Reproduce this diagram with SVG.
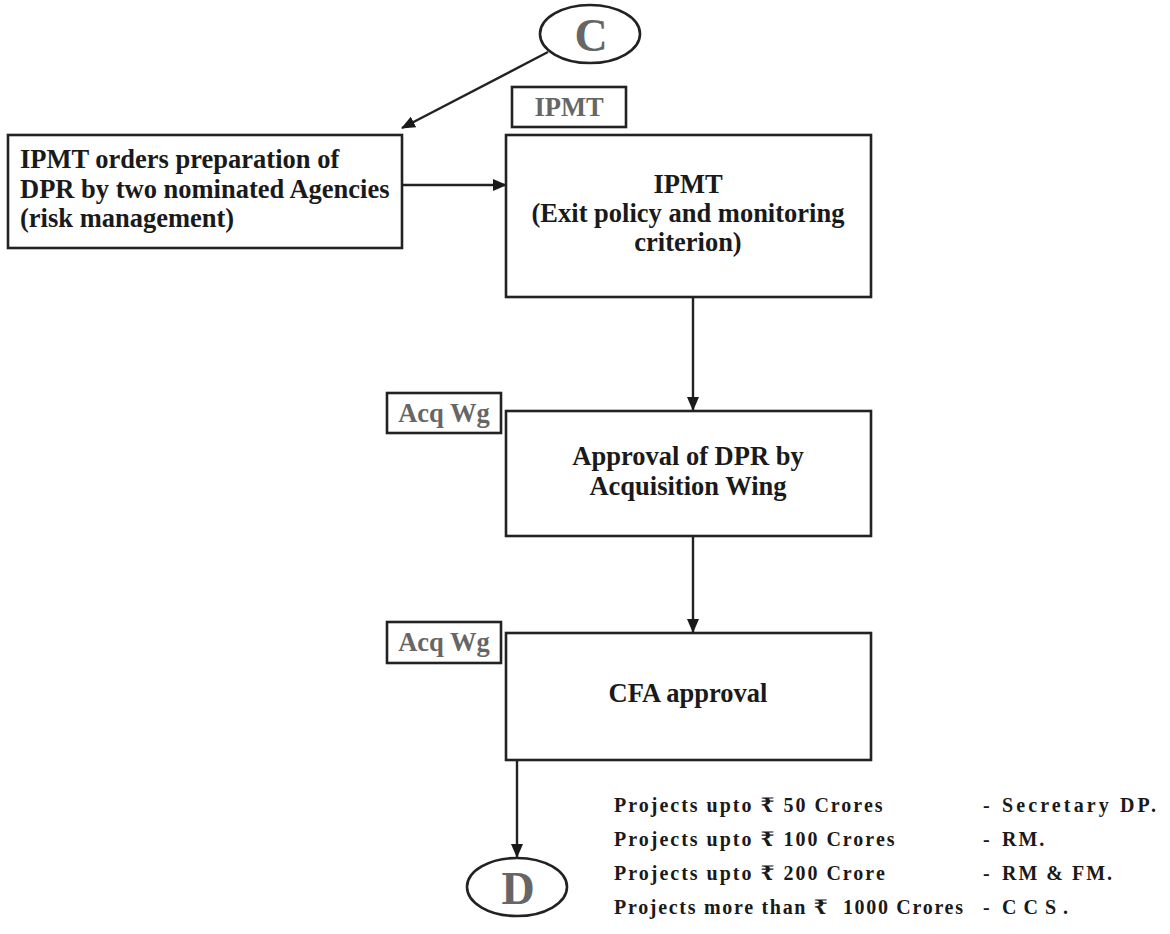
<svg xmlns="http://www.w3.org/2000/svg" width="1170" height="934" viewBox="0 0 1170 934">
<style>
.box{fill:#fff;stroke:#222;stroke-width:2.6}
.t{font-family:"Liberation Serif","Times New Roman",serif;font-weight:bold;font-size:26.5px;fill:#1a1a1a}
.g{font-family:"Liberation Serif","Times New Roman",serif;font-weight:bold;font-size:26.5px;fill:#666}
.big{font-family:"Liberation Serif","Times New Roman",serif;font-weight:bold;font-size:46px;fill:#666}
.l{font-family:"Liberation Serif","Times New Roman","DejaVu Serif","Noto Sans",serif;font-weight:bold;font-size:20px;fill:#1a1a1a;letter-spacing:2px}
.c{stroke:#222;stroke-width:2.4;fill:none}
</style>
<defs>
<marker id="ah" markerWidth="14" markerHeight="12" refX="13" refY="6" orient="auto" markerUnits="userSpaceOnUse">
<path d="M0,0 L14,6 L0,12 Z" fill="#1a1a1a"/>
</marker>
</defs>
<g id="connectors">
<line class="c" x1="548" y1="52" x2="402" y2="128" marker-end="url(#ah)"/>
<line class="c" x1="402" y1="185" x2="506" y2="185" marker-end="url(#ah)"/>
<line class="c" x1="693" y1="297" x2="693" y2="410" marker-end="url(#ah)"/>
<line class="c" x1="693" y1="536" x2="693" y2="632" marker-end="url(#ah)"/>
<line class="c" x1="517" y1="760" x2="517" y2="857" marker-end="url(#ah)"/>
</g>
<g id="nodeC">
<ellipse class="box" cx="590" cy="34" rx="50" ry="29"/>
<text class="big" x="591" y="51" text-anchor="middle">C</text>
</g>
<g id="labelIPMT">
<rect class="box" x="512" y="87" width="114" height="40"/>
<text class="g" x="569" y="116" text-anchor="middle">IPMT</text>
</g>
<g id="ordersBox">
<rect class="box" x="8" y="135" width="394" height="113"/>
<text class="t" x="20" y="168">IPMT orders preparation of</text>
<text class="t" x="20" y="198">DPR by two nominated Agencies</text>
<text class="t" x="20" y="227">(risk management)</text>
</g>
<g id="ipmtBox">
<rect class="box" x="506" y="135" width="365" height="162"/>
<text class="t" x="688" y="193" text-anchor="middle">IPMT</text>
<text class="t" x="688" y="222" text-anchor="middle">(Exit policy and monitoring</text>
<text class="t" x="688" y="251" text-anchor="middle">criterion)</text>
</g>
<g id="labelAcq1">
<rect class="box" x="387" y="393" width="114" height="40"/>
<text class="g" x="444" y="422" text-anchor="middle">Acq Wg</text>
</g>
<g id="approvalBox">
<rect class="box" x="506" y="411" width="365" height="125"/>
<text class="t" x="688" y="465" text-anchor="middle">Approval of DPR by</text>
<text class="t" x="688" y="495" text-anchor="middle">Acquisition Wing</text>
</g>
<g id="labelAcq2">
<rect class="box" x="387" y="622" width="114" height="41"/>
<text class="g" x="444" y="651" text-anchor="middle">Acq Wg</text>
</g>
<g id="cfaBox">
<rect class="box" x="506" y="633" width="365" height="127"/>
<text class="t" x="688" y="702" text-anchor="middle">CFA approval</text>
</g>
<g id="nodeD">
<ellipse class="box" cx="517" cy="887" rx="50" ry="29"/>
<text class="big" x="518" y="904" text-anchor="middle">D</text>
</g>
<g id="cfaLimits">
<text class="l" x="614" y="812">Projects upto ₹ 50 Crores</text>
<text class="l" x="614" y="846">Projects upto ₹ 100 Crores</text>
<text class="l" x="614" y="880">Projects upto ₹ 200 Crore</text>
<text class="l" x="614" y="914" xml:space="preserve" textLength="351" lengthAdjust="spacing">Projects more than ₹  1000 Crores</text>
<text class="l" x="983" y="812">-</text>
<text class="l" x="983" y="846">-</text>
<text class="l" x="983" y="880">-</text>
<text class="l" x="983" y="914">-</text>
<text class="l" x="1002" y="812" textLength="156" lengthAdjust="spacing">Secretary DP.</text>
<text class="l" x="1002" y="846">RM.</text>
<text class="l" x="1002" y="880">RM &amp; FM.</text>
<text class="l" x="1002" y="914" textLength="68" lengthAdjust="spacing">CCS.</text>
</g>
</svg>
